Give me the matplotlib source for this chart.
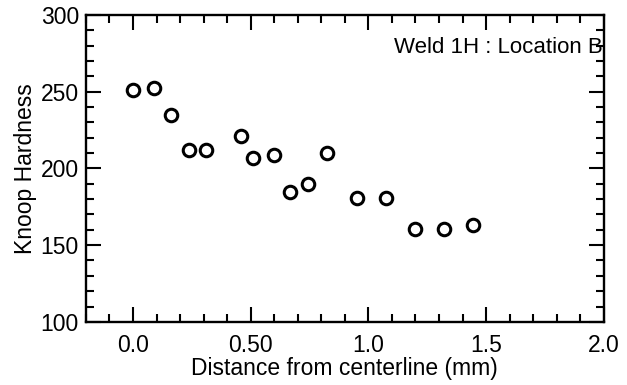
import numpy as np
import matplotlib
matplotlib.use("Agg")
import matplotlib.pyplot as plt
from matplotlib.ticker import MultipleLocator

# Knoop hardness traverse, weld 1H location B
distance_mm = [0.0, 0.09, 0.16, 0.24, 0.31, 0.46, 0.51, 0.60, 0.665, 0.745,
               0.825, 0.95, 1.075, 1.20, 1.32, 1.445]
hardness = [251, 252.5, 235, 212, 212, 221, 207, 208.5, 184.5, 190,
            210, 181, 181, 160.5, 160.5, 163]

x_ticks = [0.0, 0.5, 1.0, 1.5, 2.0]
x_ticklabels = ['0.0', '0.50', '1.0', '1.5', '2.0']
y_ticks = [100, 150, 200, 250, 300]

plt.rcParams['font.family'] = ['Liberation Sans', 'DejaVu Sans']

fig = plt.figure(figsize=(6.27, 3.85), dpi=100)
ax = fig.add_axes([0.137, 0.164, 0.826, 0.797])

ax.plot(distance_mm, hardness, linestyle='none', marker='o',
        markersize=9, markerfacecolor='white', markeredgecolor='black',
        markeredgewidth=2.2)

ax.set_xlim(-0.2, 2.0)
ax.set_ylim(100, 300)
ax.set_xticks(x_ticks)
ax.set_xticklabels(x_ticklabels)
ax.set_yticks(y_ticks)
ax.xaxis.set_minor_locator(MultipleLocator(0.1))
ax.yaxis.set_minor_locator(MultipleLocator(10))

ax.tick_params(which='both', direction='in', top=True, right=True,
               width=1.5, labelsize=16.5, pad=5)
ax.tick_params(axis='x', which='major', pad=9)
ax.tick_params(which='major', length=11)
ax.tick_params(which='minor', length=5.5)
for s in ax.spines.values():
    s.set_linewidth(1.7)

ax.set_xlabel('Distance from centerline (mm)', fontsize=16.5, labelpad=0)
ax.set_ylabel('Knoop Hardness', fontsize=16.5, labelpad=3)

ax.text(0.998, 0.895, 'Weld 1H : Location B', transform=ax.transAxes,
        ha='right', va='center', fontsize=16)

fig.savefig('out.png', dpi=100)
